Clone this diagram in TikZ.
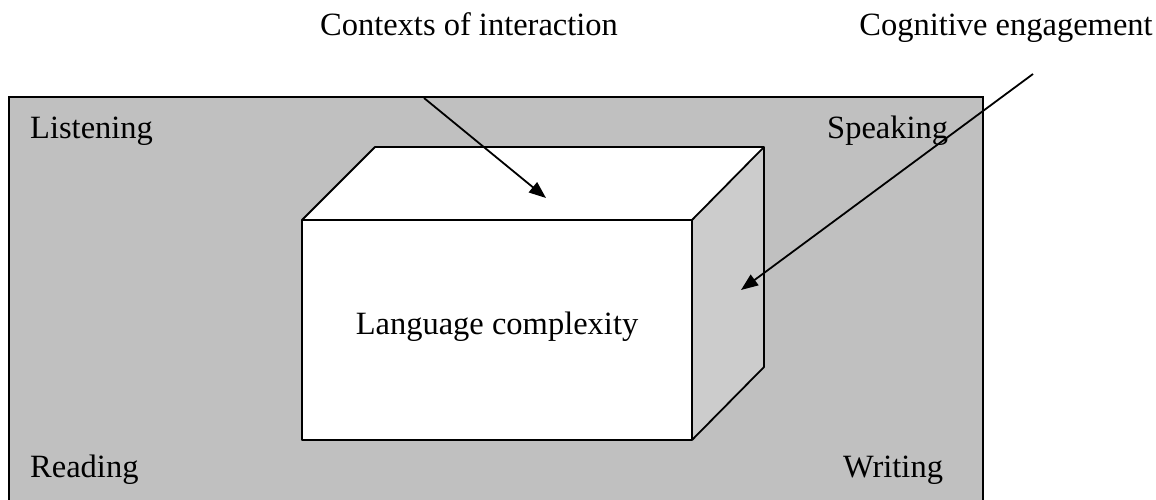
\documentclass[tikz,border=0pt]{standalone}
\usepackage{fontspec}
\setmainfont{Liberation Serif}
\usetikzlibrary{arrows.meta}
\definecolor{bggray}{HTML}{C0C0C0}
\definecolor{sidegray}{HTML}{CCCCCC}
\tikzset{
  lbl/.style={font=\fontsize{32.5}{38}\selectfont, inner sep=0pt},
  edge/.style={draw=black, line width=1.8pt, line join=round},
  pointer/.style={draw=black, line width=1.8pt, -{Triangle[length=17pt,width=13pt]}}
}
\begin{document}
\begin{tikzpicture}[x=1pt,y=-1pt]
\useasboundingbox (0,0) rectangle (1156,500);
\begin{scope}
\clip (0,0) rectangle (1156,500);
\draw[fill=bggray, line width=1.8pt] (9,97) rectangle (983,520);
\end{scope}
% box
\coordinate (fTL) at (302,220);
\coordinate (fTR) at (692,220);
\coordinate (fBR) at (692,440);
\coordinate (fBL) at (302,440);
\coordinate (bTL) at (375,147);
\coordinate (bTR) at (764,147);
\coordinate (bBR) at (764,367);
\fill[white] (fTL) -- (bTL) -- (bTR) -- (fTR) -- cycle;
\fill[sidegray] (fTR) -- (bTR) -- (bBR) -- (fBR) -- cycle;
\fill[white] (fTL) rectangle (fBR);
\draw[edge] (fTL) -- (bTL) -- (bTR) -- (bBR) -- (fBR);
\draw[edge] (fTR) -- (bTR);
\draw[edge] (fTL) rectangle (fBR);
% labels
\node[lbl, anchor=base west] (listen) at (30,139) {Listening};
\node[lbl, anchor=base west] (speak) at (827,139) {Speaking};
\node[lbl, anchor=base west] (read) at (30,477) {Reading};
\node[lbl, anchor=base west] (write) at (843,477) {Writing};
\node[lbl, anchor=base] (lang) at (497,334) {Language complexity};
\node[lbl, anchor=base] (ctx) at (469,36) {Contexts of interaction};
\node[lbl, anchor=base] (cog) at (1006,36) {Cognitive engagement};
% arrows
\coordinate (c1s) at (424,98);
\coordinate (c1e) at (546,198);
\coordinate (c2s) at (1033,74);
\coordinate (c2e) at (741,290);
\draw[pointer] (c1s) -- (c1e);
\draw[pointer] (c2s) -- (c2e);
\end{tikzpicture}
\end{document}
